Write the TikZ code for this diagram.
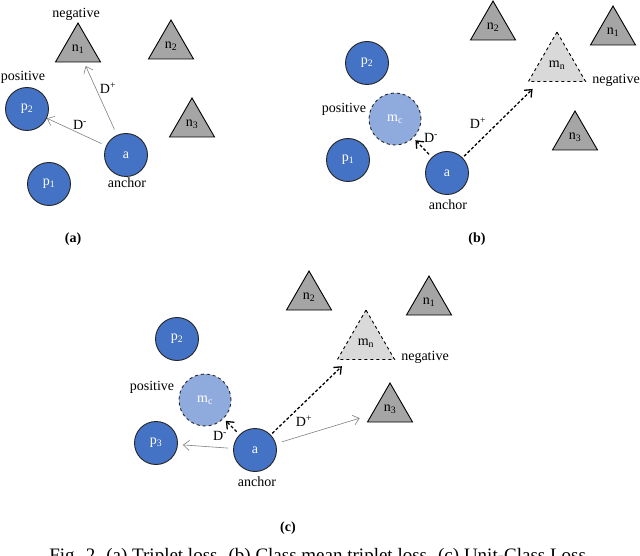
\documentclass[tikz,border=0pt]{standalone}
\usepackage{fontspec}
\setmainfont{Liberation Serif}
\usepackage{tikz}
\usetikzlibrary{shapes.geometric,arrows.meta}

\definecolor{ptblue}{HTML}{4472C4}
\definecolor{meanblue}{HTML}{8FAADC}
\definecolor{neggray}{HTML}{A5A5A5}
\definecolor{meangray}{HTML}{D9D9D9}

\tikzset{
  pt/.style={circle, draw=black!85, fill=ptblue, line width=0.9pt,
             minimum size=43pt, inner sep=0pt, text=white},
  ptmean/.style={pt, fill=meanblue, dashed, minimum size=52pt},
  ng/.style={regular polygon, regular polygon sides=3, draw, fill=neggray,
             line width=0.9pt, minimum size=52pt, inner sep=0pt},
  ngmean/.style={ng, fill=meangray, dashed, minimum size=66pt},
  lbl/.style={inner sep=0pt},
  thinarr/.style={draw=gray, line width=0.6pt,
                  -{Straight Barb[length=6pt,width=10pt]}},
  meanarr/.style={draw=black, line width=1.3pt, dash pattern=on 3pt off 2pt,
                  -{Straight Barb[length=6pt,width=10pt]}},
}

\begin{document}
\begin{tikzpicture}[x=1pt, y=-1pt, font=\fontsize{14}{16}\selectfont]
  \useasboundingbox (0,0) rectangle (640,556);

  % (a) triplet loss
  \node[ng] (a-n1) at (78,49) {n\textsubscript{1}};
  \node[ng] (a-n2) at (171,46) {n\textsubscript{2}};
  \node[ng] (a-n3) at (192,124) {n\textsubscript{3}};
  \node[pt] (a-p2) at (27,109) {p\textsubscript{2}};
  \node[pt] (a-a) at (126,155) {a};
  \node[pt] (a-p1) at (49,184) {p\textsubscript{1}};
  \node[lbl] (a-neg) at (76,14) {negative};
  \node[lbl] (a-pos) at (23,77) {positive};
  \node[lbl] (a-anc) at (127,183) {anchor};
  \node[lbl] (a-dp) at (108,88) {D\textsuperscript{+}};
  \node[lbl] (a-dm) at (80,125) {D\textsuperscript{-}};
  \draw[thinarr, shorten <=6pt, shorten >=4pt] (a-a) -- (a-n1);
  \draw[thinarr, shorten <=5pt] (a-a) -- (a-p2);
  \node[lbl] (a-cap) at (73,239) {\textbf{(a)}};

  % (b) class mean triplet loss
  \node[ng] (b-n2) at (493,27) {n\textsubscript{2}};
  \node[ng] (b-n1) at (613,32) {n\textsubscript{1}};
  \node[ngmean] (b-mn) at (557,65) {m\textsubscript{n}};
  \node[ng] (b-n3) at (575,137) {n\textsubscript{3}};
  \node[pt] (b-p2) at (367,63) {p\textsubscript{2}};
  \node[ptmean] (b-mc) at (395,119) {m\textsubscript{c}};
  \node[pt] (b-p1) at (348,160) {p\textsubscript{1}};
  \node[pt] (b-a) at (447,173) {a};
  \node[lbl] (b-neg) at (616,80) {negative};
  \node[lbl] (b-pos) at (344,109) {positive};
  \node[lbl] (b-anc) at (448,205) {anchor};
  \node[lbl] (b-dp) at (478,123) {D\textsuperscript{+}};
  \node[lbl] (b-dm) at (431,138) {D\textsuperscript{-}};
  \draw[meanarr, shorten <=2pt, shorten >=10pt] (b-a) -- (b-mn);
  \draw[meanarr, shorten <=4pt, shorten >=3pt] (b-a) -- (b-mc);
  \node[lbl] (b-cap) at (477,239) {\textbf{(b)}};

  % (c) unit-class loss
  \node[ng] (c-n2) at (309,297) {n\textsubscript{2}};
  \node[ng] (c-n1) at (429,302) {n\textsubscript{1}};
  \node[ngmean] (c-mn) at (366,343) {m\textsubscript{n}};
  \node[ng] (c-n3) at (390,409) {n\textsubscript{3}};
  \node[pt] (c-p2) at (177,339) {p\textsubscript{2}};
  \node[ptmean] (c-mc) at (205,400) {m\textsubscript{c}};
  \node[pt] (c-p3) at (156,443) {p\textsubscript{3}};
  \node[pt] (c-a) at (255,450) {a};
  \node[lbl] (c-neg) at (425,357) {negative};
  \node[lbl] (c-pos) at (152,387) {positive};
  \node[lbl] (c-anc) at (257,482) {anchor};
  \node[lbl] (c-dp) at (304,421) {D\textsuperscript{+}};
  \node[lbl] (c-dm) at (220,436) {D\textsuperscript{-}};
  \draw[meanarr, shorten <=2pt, shorten >=9pt] (c-a) -- (c-mn);
  \draw[meanarr, shorten <=4pt, shorten >=3pt] (c-a) -- (c-mc);
  \draw[thinarr, shorten <=5pt, shorten >=5pt] (c-a) -- (c-p3);
  \draw[thinarr, shorten <=6pt, shorten >=12pt] (c-a) -- (c-n3);
  \node[lbl] (c-cap) at (288,528) {\textbf{(c)}};

  \node[anchor=base, font=\fontsize{19}{22}\selectfont] (fig) at (320,561)
    {Fig. 2. (a) Triplet loss. (b) Class mean triplet loss. (c) Unit-Class Loss.};
\end{tikzpicture}
\end{document}
